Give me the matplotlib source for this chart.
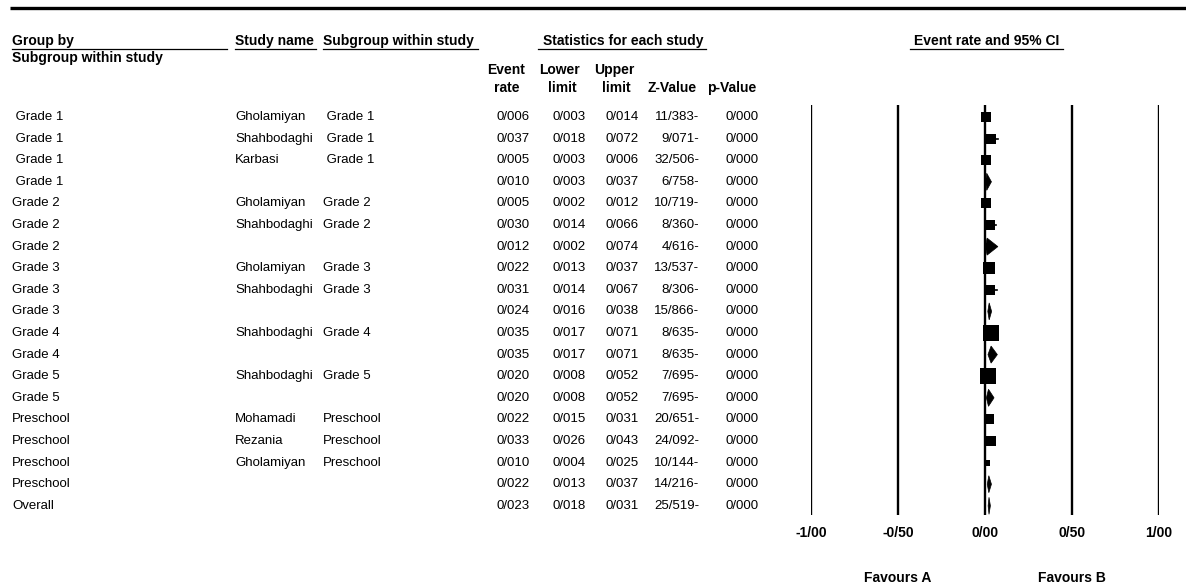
import numpy as np
import matplotlib
matplotlib.use("Agg")
import matplotlib.pyplot as plt
from matplotlib import font_manager
from matplotlib.patches import Polygon

# Narrow Arial-like face if present, plain Liberation Sans otherwise
names = {f.name for f in font_manager.fontManager.ttflist}
if "Liberation Sans Narrow" in names:
    FONT, SZ, BSZ = "Liberation Sans Narrow", 11, 11.5
else:
    FONT, SZ, BSZ = "Liberation Sans", 9.5, 10
plt.rcParams["font.family"] = FONT

# Table data
group_by = [" Grade 1", " Grade 1", " Grade 1", " Grade 1",
            "Grade 2", "Grade 2", "Grade 2",
            "Grade 3", "Grade 3", "Grade 3",
            "Grade 4", "Grade 4",
            "Grade 5", "Grade 5",
            "Preschool", "Preschool", "Preschool", "Preschool",
            "Overall"]
study_name = ["Gholamiyan", "Shahbodaghi", "Karbasi", "",
              "Gholamiyan", "Shahbodaghi", "",
              "Gholamiyan", "Shahbodaghi", "",
              "Shahbodaghi", "",
              "Shahbodaghi", "",
              "Mohamadi", "Rezania", "Gholamiyan", "",
              ""]
subgroup = [" Grade 1", " Grade 1", " Grade 1", "",
            "Grade 2", "Grade 2", "",
            "Grade 3", "Grade 3", "",
            "Grade 4", "",
            "Grade 5", "",
            "Preschool", "Preschool", "Preschool", "",
            ""]
event_rate = [0.006, 0.037, 0.005, 0.010, 0.005, 0.030, 0.012, 0.022, 0.031, 0.024,
              0.035, 0.035, 0.020, 0.020, 0.022, 0.033, 0.010, 0.022, 0.023]
lower_limit = [0.003, 0.018, 0.003, 0.003, 0.002, 0.014, 0.002, 0.013, 0.014, 0.016,
               0.017, 0.017, 0.008, 0.008, 0.015, 0.026, 0.004, 0.013, 0.018]
upper_limit = [0.014, 0.072, 0.006, 0.037, 0.012, 0.066, 0.074, 0.037, 0.067, 0.038,
               0.071, 0.071, 0.052, 0.052, 0.031, 0.043, 0.025, 0.037, 0.031]
z_value = [-11.383, -9.071, -32.506, -6.758, -10.719, -8.360, -4.616, -13.537, -8.306,
           -15.866, -8.635, -8.635, -7.695, -7.695, -20.651, -24.092, -10.144, -14.216,
           -25.519]
p_value = [0.000] * 19
# relative study weights (None = pooled row, drawn as a diamond)
weights = [32, 39, 32, None, 47, 47, None, 66, 32, None, 100, None, 88, None,
           32, 47, 19, None, None]
x_ticks = [-1.0, -0.5, 0.0, 0.5, 1.0]


def fmt(v):
    return f"{v:.3f}".replace(".", "/")


def fmt_z(v):
    s = f"{abs(v):.3f}".replace(".", "/")
    return s + "-" if v < 0 else s


W, H = 1186, 586
fig = plt.figure(figsize=(W / 100, H / 100), dpi=100)

# text layer in pixel coordinates
tx = fig.add_axes([0, 0, 1, 1])
tx.set_xlim(0, W)
tx.set_ylim(H, 0)
tx.axis("off")

tx.plot([10, W], [8, 8], color="black", lw=2.4, solid_capstyle="butt")

bold = dict(fontweight="bold", fontsize=BSZ, va="center")
tx.text(12, 41, "Group by", ha="left", **bold)
tx.text(12, 58, "Subgroup within study", ha="left", **bold)
tx.text(235, 41, "Study name", ha="left", **bold)
tx.text(323, 41, "Subgroup within study", ha="left", **bold)
tx.text(623, 41, "Statistics for each study", ha="center", **bold)
tx.text(987, 41, "Event rate and 95% CI", ha="center", **bold)
for x0, x1 in [(12, 227), (235, 316), (323, 478), (538, 706), (910, 1063)]:
    tx.plot([x0, x1], [49, 49], color="black", lw=0.9)

tx.text(506, 70, "Event", ha="center", **bold)
tx.text(507, 88, "rate", ha="center", **bold)
tx.text(560, 70, "Lower", ha="center", **bold)
tx.text(562, 88, "limit", ha="center", **bold)
tx.text(614, 70, "Upper", ha="center", **bold)
tx.text(616, 88, "limit", ha="center", **bold)
tx.text(672, 88, "Z-Value", ha="center", **bold)
tx.text(732, 88, "p-Value", ha="center", **bold)

row_y0, row_dy = 117, 21.6
for i in range(len(group_by)):
    y = row_y0 + i * row_dy
    tx.text(12, y, group_by[i], ha="left", va="center", fontsize=SZ)
    tx.text(235, y, study_name[i], ha="left", va="center", fontsize=SZ)
    tx.text(323, y, subgroup[i], ha="left", va="center", fontsize=SZ)
    tx.text(530, y, fmt(event_rate[i]), ha="right", va="center", fontsize=SZ)
    tx.text(586, y, fmt(lower_limit[i]), ha="right", va="center", fontsize=SZ)
    tx.text(639, y, fmt(upper_limit[i]), ha="right", va="center", fontsize=SZ)
    tx.text(699, y, fmt_z(z_value[i]), ha="right", va="center", fontsize=SZ)
    tx.text(759, y, fmt(p_value[i]), ha="right", va="center", fontsize=SZ)

# forest panel: x from -1 to 1, one unit per row
fx0, fx1, fy0, fy1 = 811, 1159, 105, 515
ax = fig.add_axes([fx0 / W, 1 - fy1 / H, (fx1 - fx0) / W, (fy1 - fy0) / H])
ax.set_xlim(-1, 1)
ax.set_ylim((fy1 - row_y0) / row_dy, (fy0 - row_y0) / row_dy)
ax.axis("off")
for t in x_ticks:
    ax.axvline(t, color="black", lw=1.7)

half_h = 8.5 / row_dy
for i, w in enumerate(weights):
    r, lo, hi = event_rate[i], lower_limit[i], upper_limit[i]
    if w is None:
        ax.add_patch(Polygon([(lo, i), (r, i - half_h), (hi, i), (r, i + half_h)],
                             closed=True, facecolor="black", edgecolor="black", lw=0.5))
    else:
        ax.plot([lo, hi], [i, i], color="black", lw=1.2)
        side_px = 16 * np.sqrt(w / 100)
        ax.plot(r, i, marker="s", color="black", markersize=side_px * 0.72,
                markeredgewidth=0)

for t in x_ticks:
    tx.text(fx0 + (t + 1) / 2 * (fx1 - fx0), 533, f"{t:.2f}".replace(".", "/"),
            ha="center", va="center", fontweight="bold", fontsize=BSZ)
tx.text(898, 578, "Favours A", ha="center", va="center", fontweight="bold", fontsize=BSZ)
tx.text(1072, 578, "Favours B", ha="center", va="center", fontweight="bold", fontsize=BSZ)

fig.savefig("out.png", dpi=100)
